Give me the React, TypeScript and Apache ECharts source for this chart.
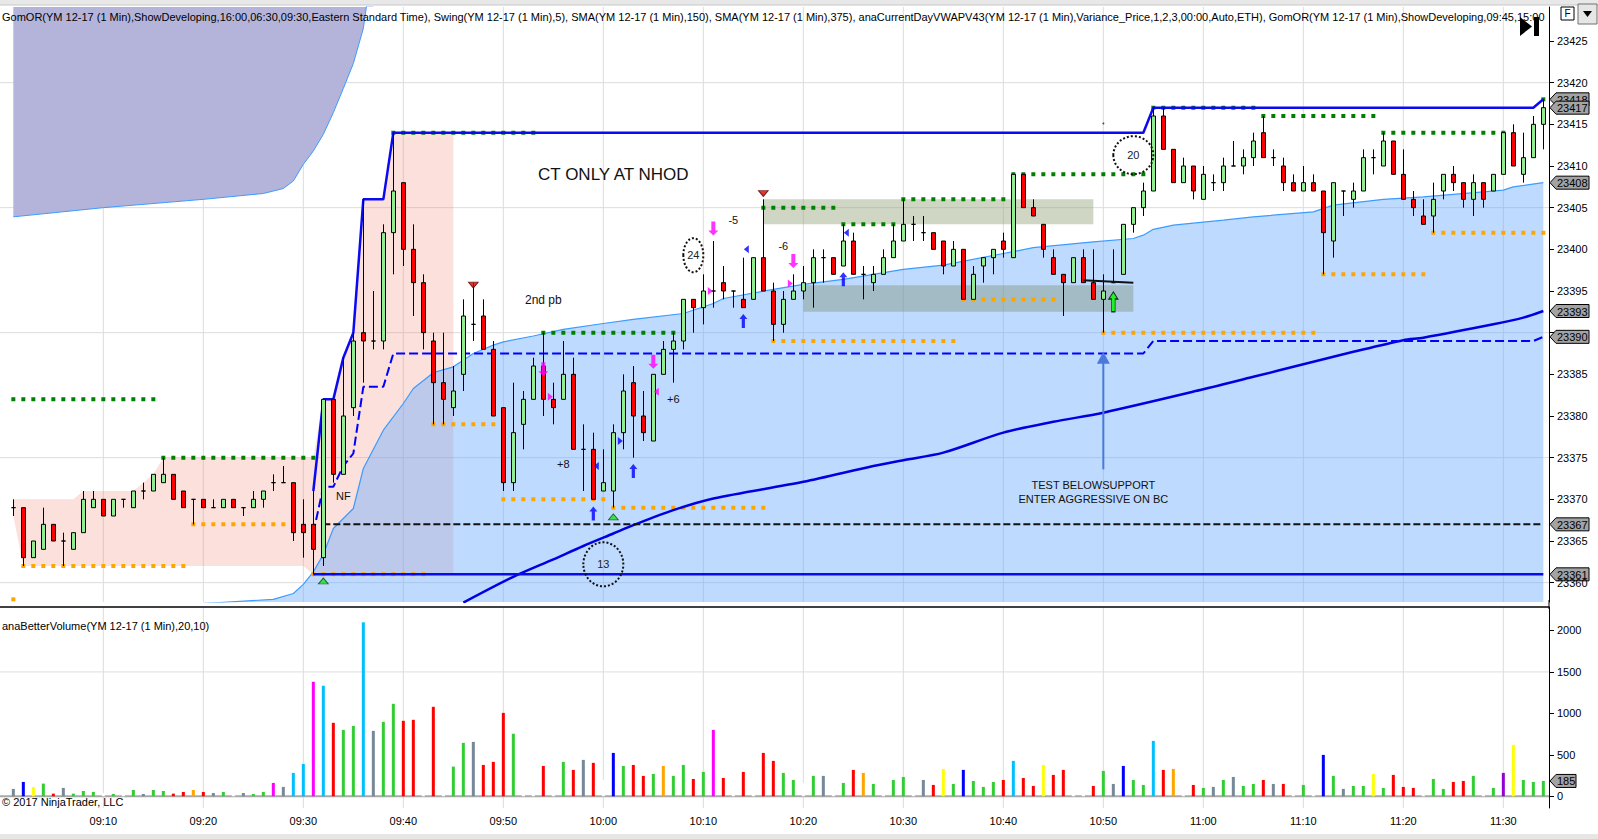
import React, { useEffect, useRef } from "react";
import * as echarts from "echarts";

// ---------- DATA ----------
// [time, open, high, low, close]
const candles: [string, number, number, number, number][] = [
  ["09:01", 23369, 23370, 23368, 23369], ["09:02", 23369, 23369, 23362, 23363], ["09:03", 23363, 23365, 23363, 23365],
  ["09:04", 23364, 23369, 23364, 23367], ["09:05", 23367, 23367, 23365, 23365], ["09:06", 23365, 23366, 23362, 23365],
  ["09:07", 23364, 23366, 23364, 23366], ["09:08", 23366, 23371, 23366, 23370], ["09:09", 23369, 23371, 23369, 23370],
  ["09:10", 23370, 23370, 23368, 23368], ["09:11", 23368, 23370, 23368, 23370], ["09:12", 23370, 23370, 23369, 23370],
  ["09:13", 23369, 23371, 23369, 23371], ["09:14", 23371, 23372, 23370, 23371], ["09:15", 23371, 23373, 23371, 23373],
  ["09:16", 23372, 23375, 23372, 23373], ["09:17", 23373, 23373, 23370, 23370], ["09:18", 23371, 23371, 23369, 23369],
  ["09:19", 23370, 23370, 23367, 23370], ["09:20", 23370, 23370, 23369, 23369], ["09:21", 23369, 23370, 23369, 23369],
  ["09:22", 23369, 23370, 23369, 23370], ["09:23", 23370, 23370, 23369, 23369], ["09:24", 23369, 23369, 23368, 23369],
  ["09:25", 23369, 23371, 23369, 23370], ["09:26", 23370, 23371, 23369, 23371], ["09:27", 23372, 23373, 23371, 23372],
  ["09:28", 23372, 23374, 23372, 23372], ["09:29", 23372, 23372, 23365, 23366], ["09:30", 23367, 23370, 23363, 23366],
  ["09:31", 23367, 23371, 23361, 23364], ["09:32", 23363, 23382, 23362, 23382], ["09:33", 23382, 23382, 23372, 23373],
  ["09:34", 23373, 23387, 23373, 23380], ["09:35", 23381, 23390, 23380, 23389], ["09:36", 23390, 23406, 23384, 23389],
  ["09:37", 23389, 23395, 23388, 23389], ["09:38", 23389, 23403, 23388, 23402], ["09:39", 23402, 23414, 23397, 23407],
  ["09:40", 23408, 23408, 23398, 23400], ["09:41", 23400, 23403, 23392, 23396], ["09:42", 23396, 23397, 23388, 23390],
  ["09:43", 23389, 23390, 23379, 23384], ["09:44", 23384, 23390, 23379, 23382], ["09:45", 23381, 23386, 23380, 23383],
  ["09:46", 23385, 23394, 23383, 23392], ["09:47", 23391, 23396, 23389, 23391], ["09:48", 23392, 23394, 23388, 23388],
  ["09:49", 23388, 23389, 23380, 23380], ["09:50", 23381, 23381, 23371, 23372], ["09:51", 23372, 23384, 23371, 23378],
  ["09:52", 23379, 23383, 23376, 23382], ["09:53", 23382, 23387, 23382, 23386], ["09:54", 23386, 23390, 23380, 23382],
  ["09:55", 23382, 23384, 23379, 23381], ["09:56", 23382, 23389, 23382, 23385], ["09:57", 23385, 23387, 23376, 23376],
  ["09:58", 23376, 23379, 23371, 23376], ["09:59", 23376, 23378, 23370, 23370], ["10:00", 23371, 23376, 23371, 23372],
  ["10:01", 23371, 23379, 23369, 23378], ["10:02", 23378, 23385, 23376, 23383], ["10:03", 23384, 23386, 23375, 23380],
  ["10:04", 23380, 23383, 23377, 23378], ["10:05", 23377, 23385, 23377, 23385], ["10:06", 23385, 23389, 23385, 23388],
  ["10:07", 23388, 23390, 23384, 23389], ["10:08", 23389, 23394, 23388, 23394], ["10:09", 23394, 23394, 23390, 23393],
  ["10:10", 23393, 23397, 23391, 23395], ["10:11", 23395, 23401, 23393, 23395], ["10:12", 23396, 23398, 23394, 23395],
  ["10:13", 23395, 23395, 23393, 23395], ["10:14", 23394, 23399, 23393, 23393], ["10:15", 23394, 23399, 23394, 23399],
  ["10:16", 23399, 23406, 23395, 23395], ["10:17", 23395, 23396, 23389, 23391], ["10:18", 23391, 23395, 23390, 23394],
  ["10:19", 23394, 23397, 23394, 23395], ["10:20", 23395, 23398, 23394, 23396], ["10:21", 23396, 23400, 23393, 23399],
  ["10:22", 23399, 23400, 23396, 23399], ["10:23", 23399, 23399, 23397, 23397], ["10:24", 23398, 23403, 23398, 23401],
  ["10:25", 23401, 23402, 23397, 23397], ["10:26", 23397, 23398, 23394, 23397], ["10:27", 23396, 23398, 23395, 23397],
  ["10:28", 23397, 23400, 23397, 23399], ["10:29", 23399, 23403, 23399, 23401], ["10:30", 23401, 23406, 23401, 23403],
  ["10:31", 23403, 23404, 23401, 23403], ["10:32", 23402, 23404, 23401, 23402], ["10:33", 23402, 23402, 23400, 23400],
  ["10:34", 23401, 23401, 23397, 23398], ["10:35", 23398, 23401, 23398, 23400], ["10:36", 23400, 23400, 23394, 23394],
  ["10:37", 23394, 23398, 23394, 23397], ["10:38", 23398, 23399, 23396, 23399], ["10:39", 23399, 23400, 23397, 23400],
  ["10:40", 23401, 23402, 23399, 23400], ["10:41", 23399, 23409, 23399, 23409], ["10:42", 23409, 23409, 23405, 23405],
  ["10:43", 23405, 23406, 23404, 23404], ["10:44", 23403, 23403, 23399, 23400], ["10:45", 23399, 23400, 23397, 23397],
  ["10:46", 23397, 23397, 23392, 23396], ["10:47", 23396, 23399, 23396, 23399], ["10:48", 23399, 23400, 23396, 23396],
  ["10:49", 23396, 23400, 23394, 23394], ["10:50", 23394, 23397, 23390, 23395], ["10:51", 23396, 23400, 23396, 23396],
  ["10:52", 23397, 23403, 23397, 23403], ["10:53", 23403, 23405, 23402, 23405], ["10:54", 23405, 23408, 23404, 23407],
  ["10:55", 23407, 23417, 23407, 23416], ["10:56", 23416, 23417, 23412, 23412], ["10:57", 23412, 23412, 23408, 23408],
  ["10:58", 23408, 23411, 23408, 23410], ["10:59", 23410, 23410, 23406, 23407], ["11:00", 23406, 23410, 23406, 23409],
  ["11:01", 23408, 23409, 23407, 23408], ["11:02", 23408, 23411, 23407, 23410], ["11:03", 23410, 23413, 23410, 23410],
  ["11:04", 23410, 23412, 23409, 23411], ["11:05", 23411, 23414, 23410, 23413], ["11:06", 23414, 23416, 23411, 23411],
  ["11:07", 23411, 23412, 23410, 23411], ["11:08", 23410, 23411, 23407, 23408], ["11:09", 23408, 23409, 23407, 23407],
  ["11:10", 23407, 23410, 23407, 23408], ["11:11", 23408, 23409, 23407, 23407], ["11:12", 23407, 23407, 23397, 23402],
  ["11:13", 23401, 23408, 23399, 23408], ["11:14", 23407, 23407, 23404, 23407], ["11:15", 23406, 23408, 23405, 23407],
  ["11:16", 23407, 23412, 23407, 23411], ["11:17", 23411, 23412, 23409, 23411], ["11:18", 23410, 23414, 23410, 23413],
  ["11:19", 23413, 23413, 23409, 23409], ["11:20", 23409, 23412, 23406, 23406], ["11:21", 23406, 23407, 23404, 23405],
  ["11:22", 23404, 23406, 23403, 23403], ["11:23", 23404, 23408, 23402, 23406], ["11:24", 23407, 23409, 23406, 23409],
  ["11:25", 23409, 23410, 23407, 23408], ["11:26", 23408, 23408, 23405, 23406], ["11:27", 23406, 23409, 23404, 23408],
  ["11:28", 23408, 23408, 23405, 23406], ["11:29", 23407, 23409, 23407, 23409], ["11:30", 23409, 23414, 23409, 23414],
  ["11:31", 23414, 23415, 23410, 23410], ["11:32", 23409, 23414, 23408, 23411], ["11:33", 23411, 23416, 23411, 23415],
  ["11:34", 23415, 23418, 23412, 23417],
];

// volume per bar and its indicator colour class
const volumes: number[] = [
  89, 173, 113, 153, 32, 101, 32, 64, 52, 40, 28, 30, 76, 28, 76, 64, 32, 52, 76, 52,
  40, 52, 30, 40, 28, 52, 161, 113, 282, 390, 1381, 1333, 886, 801, 849, 2098, 789, 898, 1115, 910,
  922, 600, 1079, 600, 358, 644, 656, 378, 415, 1006, 753, 300, 300, 366, 300, 415, 318, 439, 403, 197,
  523, 366, 378, 246, 270, 366, 246, 378, 209, 294, 801, 221, 200, 294, 200, 523, 427, 282, 197, 161,
  246, 246, 150, 161, 318, 282, 149, 150, 197, 233, 150, 197, 137, 330, 149, 318, 185, 113, 173, 197,
  427, 221, 125, 378, 258, 318, 150, 150, 125, 306, 149, 366, 197, 137, 668, 318, 330, 150, 137, 101,
  113, 197, 233, 125, 149, 197, 149, 149, 100, 137, 100, 499, 246, 89, 125, 125, 270, 101, 258, 113,
  101, 100, 209, 89, 173, 185, 246, 100, 101, 282, 620, 197, 173, 185,
];
const volumeKinds: string[] = [
  "gy", "b", "y", "g", "r", "gy", "g", "g", "g", "w", "g", "w", "g", "gy", "g", "g", "r", "r", "o", "r",
  "gy", "g", "w", "gy", "g", "g", "m", "gy", "c", "c", "m", "c", "r", "g", "g", "c", "gy", "g", "g", "r",
  "r", "w", "r", "w", "g", "g", "gy", "r", "r", "r", "g", "w", "w", "r", "w", "g", "r", "gy", "r", "w",
  "b", "g", "r", "r", "g", "o", "g", "g", "r", "g", "m", "r", "w", "r", "w", "r", "r", "g", "g", "w",
  "g", "gy", "w", "g", "r", "o", "g", "w", "g", "g", "w", "gy", "r", "y", "g", "b", "g", "g", "g", "r",
  "c", "r", "r", "y", "r", "r", "w", "w", "r", "g", "gy", "b", "g", "g", "c", "r", "o", "w", "r", "g",
  "gy", "g", "gy", "g", "g", "r", "gy", "r", "w", "g", "w", "b", "g", "gy", "g", "g", "y", "g", "r", "r",
  "r", "w", "g", "g", "r", "r", "g", "w", "g", "p", "y", "g", "g", "g",
];

// VWAP variance band (light blue line, shaded below)
const vwapBand: [string, number][] = [
  ["09:20", 23357.5], ["09:27", 23358], ["09:29", 23358.7], ["09:30", 23359.8], ["09:31", 23361.3], ["09:32", 23363.4],
  ["09:33", 23366.5], ["09:35", 23368.9], ["09:36", 23373.7], ["09:38", 23378.3], ["09:40", 23381.5], ["09:41", 23383.3],
  ["09:43", 23385.2], ["09:45", 23385.9], ["09:47", 23387.5], ["09:49", 23388.5], ["09:50", 23388.9], ["09:53", 23389.6],
  ["09:56", 23390.4], ["10:00", 23391.1], ["10:03", 23391.6], ["10:08", 23392.3], ["10:11", 23393.5], ["10:12", 23394.1],
  ["10:17", 23395.2], ["10:20", 23395.8], ["10:24", 23396.4], ["10:30", 23397.6], ["10:34", 23398.1], ["10:40", 23399.5],
  ["10:43", 23400.2], ["10:49", 23400.9], ["10:53", 23401.3], ["10:54", 23401.7], ["10:55", 23402.4], ["10:57", 23402.9],
  ["11:02", 23403.5], ["11:05", 23403.9], ["11:11", 23404.5], ["11:13", 23405.3], ["11:18", 23406], ["11:22", 23406.3],
  ["11:28", 23406.9], ["11:30", 23407.1], ["11:31", 23407.5], ["11:34", 23408],
];
// upper band of the earlier session (shaded above)
const upperBand: [string, number][] = [
  ["09:01", 23403.9], ["09:10", 23405], ["09:20", 23406], ["09:26", 23406.7], ["09:28", 23407.3], ["09:29", 23408.2],
  ["09:30", 23410.2], ["09:31", 23411.8], ["09:32", 23413.8], ["09:33", 23416.4], ["09:34", 23419.3], ["09:35", 23422.3],
  ["09:36", 23426.5], ["09:37", 23435],
];
// SMA(375)
const sma375: [string, number][] = [
  ["09:46", 23357.6], ["09:51", 23360.7], ["09:55", 23362.8], ["09:58", 23364.4], ["10:01", 23365.9], ["10:03", 23366.9],
  ["10:07", 23368.7], ["10:11", 23370.1], ["10:20", 23372.1], ["10:27", 23374], ["10:30", 23374.7], ["10:34", 23375.6],
  ["10:40", 23378], ["10:45", 23379.3], ["10:50", 23380.4], ["11:00", 23383.2], ["11:05", 23384.7], ["11:10", 23386.2],
  ["11:15", 23387.7], ["11:20", 23389.1], ["11:22", 23389.4], ["11:29", 23391], ["11:32", 23391.8], ["11:34", 23392.6],
];

// swing high / low dotted levels: [from, to, price]
const swingHighs: [string, string, number][] = [
  ["09:01", "09:15", 23382], ["09:16", "09:31", 23375], ["09:39", "09:53", 23414], ["09:54", "10:07", 23390],
  ["10:16", "10:23", 23405], ["10:24", "10:29", 23403], ["10:30", "10:40", 23406], ["10:41", "10:54", 23409],
  ["10:55", "11:05", 23417], ["11:06", "11:17", 23416], ["11:18", "11:30", 23414], ["11:34", "11:34", 23418],
];
const swingLows: [string, string, number][] = [
  ["09:01", "09:01", 23358], ["09:02", "09:18", 23362], ["09:19", "09:28", 23367], ["09:31", "09:42", 23361],
  ["09:43", "09:49", 23379], ["09:50", "10:00", 23370], ["10:01", "10:16", 23369], ["10:17", "10:35", 23389],
  ["10:36", "10:45", 23394], ["10:50", "11:11", 23390], ["11:12", "11:22", 23397], ["11:23", "11:34", 23402],
];

const rthStart = "09:31";
const ethRangeEnd = "09:45";
const keyLevel: [string, number] = ["09:32", 23367];

// zones: [from, to, low, high]
const zoneUpper: [string, string, number, number] = ["10:16", "10:49", 23403, 23406];
const zoneLower: [string, string, number, number] = ["10:20", "10:53", 23392.5, 23395.7];

// markers
const swingHighTri: [string, number][] = [["09:47", 23395.7], ["10:16", 23406.7]];
const swingLowTri: [string, number][] = [["09:32", 23360.2], ["10:01", 23367.9]];
const blueUp: [string, number][] = [["09:59", 23368.3], ["10:03", 23373.4], ["10:14", 23391.4], ["10:24", 23396.4]];
const pinkDown: [string, number][] = [["09:54", 23385.6], ["10:05", 23386.5], ["10:11", 23402.5], ["10:19", 23398.6]];
const greenUp: [string, number][] = [["10:51", 23393.7]];
const pinkRight: [string, number][] = [["09:55", 23382.3], ["10:11", 23395], ["10:19", 23395.9]];
const pinkLeft: [string, number][] = [["10:05", 23382.9]];
const blueRight: [string, number][] = [["10:02", 23377]];
const blueLeft: [string, number][] = [["09:59", 23374], ["10:14", 23400], ["10:24", 23402]];
const tinyDot: [string, number][] = [["10:50", 23415.1]];

// text notes: [time, price, text]
const notes: [string, number, string][] = [
  ["10:01", 23409, "CT ONLY AT NHOD"],
  ["09:54", 23393.9, "2nd pb"],
  ["09:34", 23370.4, "NF"],
  ["09:56", 23374.2, "+8"],
  ["10:07", 23382.1, "+6"],
  ["10:13", 23403.5, "-5"],
  ["10:18", 23400.4, "-6"],
  ["10:49", 23371.7, "TEST BELOWSUPPORT"],
  ["10:49", 23370.1, "ENTER AGGRESSIVE ON BC"],
];
const circles: [string, number, string][] = [["10:09", 23399.3, "24"], ["10:00", 23362.2, "13"], ["10:53", 23411.3, "20"]];
const trendLine: [string, number][] = [["10:48", 23396.3], ["10:53", 23396]];
const supportArrow: [string, number, number] = ["10:50", 23373.6, 23387.7];

const priceTicks = [23360, 23365, 23370, 23375, 23380, 23385, 23390, 23395, 23400, 23405, 23410, 23415, 23420, 23425];
// the 23390 label is covered by the 23390 price marker in the reference
const priceTickLabels = [23360, 23365, 23370, 23375, 23380, 23385, 23395, 23400, 23405, 23410, 23415, 23420, 23425];
const priceGridLines = [23360, 23375, 23390, 23405, 23420];
const volumeTicks = [0, 500, 1000, 1500, 2000];
const volumeGridLines = [1500];
const timeTicks = ["09:10", "09:20", "09:30", "09:40", "09:50", "10:00", "10:10", "10:20", "10:30", "10:40", "10:50", "11:00", "11:10", "11:20", "11:30"];

const legendText =
  "GomOR(YM 12-17 (1 Min),ShowDeveloping,16:00,06:30,09:30,Eastern Standard Time), Swing(YM 12-17 (1 Min),5), SMA(YM 12-17 (1 Min),150), SMA(YM 12-17 (1 Min),375), anaCurrentDayVWAPV43(YM 12-17 (1 Min),Variance_Price,1,2,3,00:00,Auto,ETH), GomOR(YM 12-17 (1 Min),ShowDeveloping,09:45,15:00";
const volumeTitle = "anaBetterVolume(YM 12-17 (1 Min),20,10)";
const copyright = "© 2017 NinjaTrader, LLC";

// ---------- STYLE ----------
const FONT = '"Liberation Sans", Arial, sans-serif';
const VOLUME_COLORS: Record<string, string> = {
  g: "#32cd32", r: "#ff0000", gy: "#778899", b: "#0000ff", y: "#ffff00",
  c: "#00bfff", m: "#ff00ff", o: "#ffa500", p: "#9400d3", w: "#ffffff",
};
const CIRCLE_RADII: Record<string, [number, number]> = { "24": [10, 17], "13": [20, 22], "20": [20, 19] };
const NOTE_SIZE: Record<string, number> = { "CT ONLY AT NHOD": 17, "2nd pb": 12 };

const X_MIN = -1.333;
const X_MAX = X_MIN + 154.9;
const P_MIN = 23357.68;
const P_MAX = 23429.08;
const V_MIN = -141.3;
const V_MAX = 2282.6;
const AXIS_X = 1549;

function idx(t: string): number {
  const [h, m] = t.split(":").map(Number);
  return h * 60 + m - (9 * 60 + 1);
}
function timeLabel(i: number): string {
  const total = 9 * 60 + 1 + Math.round(i);
  const h = Math.floor(total / 60);
  const m = total % 60;
  return `${String(h).padStart(2, "0")}:${String(m).padStart(2, "0")}`;
}
const pts = (arr: [string, number][]) => arr.map(([t, v]) => [idx(t), v]);

function derived() {
  let hi = -Infinity, lo = Infinity;
  const ethUpper: number[][] = [], ethLower: number[][] = [];
  let rh = -Infinity, rl = Infinity;
  const rthHigh: number[][] = [], rthLow: number[][] = [], rthMid: number[][] = [];
  for (const [t, , h, l] of candles) {
    const i = idx(t);
    if (i <= idx(ethRangeEnd)) {
      hi = Math.max(hi, h); lo = Math.min(lo, l);
      ethUpper.push([i, hi]); ethLower.push([i, lo]);
    }
    if (i >= idx(rthStart)) {
      rh = Math.max(rh, h); rl = Math.min(rl, l);
      rthHigh.push([i, rh]); rthLow.push([i, rl]); rthMid.push([i, (rh + rl) / 2]);
    }
  }
  return { ethUpper, ethLower, rthHigh, rthLow, rthMid };
}

function customLayer(z: number, draw: (api: any) => any[], xi = 0, yi = 0, anchorY = P_MIN + 1) {
  return {
    type: "custom",
    xAxisIndex: xi,
    yAxisIndex: yi,
    z,
    silent: true,
    data: [[0, anchorY]],
    renderItem: (_p: any, api: any) => ({ type: "group", children: draw(api) }),
  };
}

function scatterMarks(data: [string, number][], z: number, extra: any) {
  return {
    type: "scatter",
    xAxisIndex: 0,
    yAxisIndex: 0,
    z,
    silent: true,
    data: pts(data),
    ...extra,
  };
}

function buildOption() {
  const d = derived();
  const lastI = idx(candles[candles.length - 1][0]);

  const gridLayer = customLayer(0, (api) => {
    const out: any[] = [];
    for (const v of priceGridLines) {
      const a = api.coord([X_MIN, v]), b = api.coord([X_MAX, v]);
      out.push({ type: "line", shape: { x1: a[0], y1: a[1], x2: b[0], y2: b[1] }, style: { stroke: "#dcdcdc", lineWidth: 1 } });
    }
    for (const t of timeTicks) {
      const a = api.coord([idx(t), P_MIN]), b = api.coord([idx(t), P_MAX]);
      out.push({ type: "line", shape: { x1: a[0], y1: a[1], x2: b[0], y2: b[1] }, style: { stroke: "#dcdcdc", lineWidth: 1 } });
    }
    return out;
  });

  const volGridLayer = customLayer(0, (api) => {
    const out: any[] = [];
    for (const v of volumeGridLines) {
      const a = api.coord([X_MIN, v]), b = api.coord([X_MAX, v]);
      out.push({ type: "line", shape: { x1: a[0], y1: a[1], x2: b[0], y2: b[1] }, style: { stroke: "#dcdcdc", lineWidth: 1 } });
    }
    for (const t of timeTicks) {
      const a = api.coord([idx(t), V_MIN]), b = api.coord([idx(t), V_MAX]);
      out.push({ type: "line", shape: { x1: a[0], y1: a[1], x2: b[0], y2: b[1] }, style: { stroke: "#dcdcdc", lineWidth: 1 } });
    }
    const a = api.coord([X_MIN, 0]), b = api.coord([X_MAX, 0]);
    out.push({ type: "line", shape: { x1: a[0], y1: a[1], x2: b[0], y2: b[1] }, style: { stroke: "#a8a8a8", lineWidth: 2 } });
    return out;
  }, 1, 1, 100);

  const pinkLayer = customLayer(1, (api) => {
    const poly = [...d.ethUpper.map((p) => api.coord(p)), ...d.ethLower.slice().reverse().map((p) => api.coord(p))];
    return [{ type: "polygon", shape: { points: poly }, style: { fill: "rgba(245,130,115,0.25)" } }];
  });

  const zonesLayer = customLayer(2, (api) => {
    const rect = (z: [string, string, number, number], fill: string) => {
      const a = api.coord([idx(z[0]), z[3]]), b = api.coord([idx(z[1]), z[2]]);
      return { type: "rect", shape: { x: a[0], y: a[1], width: b[0] - a[0], height: b[1] - a[1] }, style: { fill } };
    };
    return [rect(zoneUpper, "rgba(150,165,125,0.45)"), rect(zoneLower, "rgba(120,140,110,0.4)")];
  });

  const dotted = (segs: [string, string, number][], color: string) => (api: any) =>
    segs.map(([s, e, v]) => {
      const a = api.coord([idx(s), v]), b = api.coord([idx(e), v]);
      return {
        type: "line",
        shape: { x1: a[0] - 2, y1: a[1], x2: b[0] + 2, y2: b[1] },
        style: { stroke: color, lineWidth: 4, lineDash: [4, 6], lineCap: "butt" },
      };
    });
  const swingLayer = customLayer(3, (api) => [...dotted(swingHighs, "#008000")(api), ...dotted(swingLows, "#ffa500")(api)]);

  const drawingsLayer = customLayer(5, (api) => {
    const out: any[] = [];
    const t1 = api.coord([idx(trendLine[0][0]), trendLine[0][1]]), t2 = api.coord([idx(trendLine[1][0]), trendLine[1][1]]);
    out.push({ type: "line", shape: { x1: t1[0], y1: t1[1], x2: t2[0], y2: t2[1] }, style: { stroke: "#111", lineWidth: 2 } });
    const s1 = api.coord([idx(supportArrow[0]), supportArrow[1]]), s2 = api.coord([idx(supportArrow[0]), supportArrow[2]]);
    out.push({ type: "line", shape: { x1: s1[0], y1: s1[1], x2: s2[0], y2: s2[1] + 10 }, style: { stroke: "#4a78dc", lineWidth: 2 } });
    out.push({
      type: "polygon",
      shape: { points: [[s2[0], s2[1]], [s2[0] + 6.5, s2[1] + 12], [s2[0] - 6.5, s2[1] + 12]] },
      style: { fill: "#4a78dc" },
    });
    for (const [t, v, txt] of circles) {
      const c = api.coord([idx(t), v]);
      const [rx, ry] = CIRCLE_RADII[txt];
      out.push({ type: "ellipse", shape: { cx: c[0], cy: c[1], rx, ry }, style: { fill: "none", stroke: "#111", lineWidth: 2, lineDash: [2, 2] } });
      out.push({ type: "text", x: c[0], y: c[1], style: { text: txt, fill: "#222", fontSize: 11, fontFamily: FONT, align: "center", verticalAlign: "middle" } });
    }
    for (const [t, v, txt] of notes) {
      const c = api.coord([idx(t), v]);
      out.push({
        type: "text", x: c[0], y: c[1],
        style: { text: txt, fill: "#111", fontSize: NOTE_SIZE[txt] || 11, fontFamily: FONT, align: "center", verticalAlign: "middle" },
      });
    }
    return out;
  });

  const upPath = "path://M5 0 L10 5 L7 5 L7 14 L3 14 L3 5 L0 5 Z";
  const downPath = "path://M3 0 L7 0 L7 9 L10 9 L5 14 L0 9 L3 9 Z";
  const rightPath = "path://M0 0 L6 4 L0 8 Z";
  const leftPath = "path://M6 0 L0 4 L6 8 Z";

  const yAxisCommon = {
    type: "value",
    position: "right",
    axisLine: { show: true, onZero: false, lineStyle: { color: "#000", width: 1 } },
    splitLine: { show: false },
  };

  return {
    animation: false,
    backgroundColor: "#ffffff",
    textStyle: { fontFamily: FONT },
    tooltip: { show: false },
    grid: [
      { left: 0, top: 7, width: AXIS_X, height: 595 },
      { left: 0, top: 607, width: AXIS_X, height: 201 },
    ],
    xAxis: [
      { type: "value", gridIndex: 0, min: X_MIN, max: X_MAX, show: false, axisLine: { onZero: false } },
      {
        type: "value", gridIndex: 1, min: X_MIN, max: X_MAX,
        axisLine: { show: false, onZero: false }, axisTick: { show: false }, splitLine: { show: false },
        axisLabel: {
          customValues: timeTicks.map(idx), formatter: (v: number) => timeLabel(v),
          color: "#000", fontSize: 11, fontFamily: FONT, margin: 7,
        },
      },
    ],
    yAxis: [
      {
        ...yAxisCommon, gridIndex: 0, min: P_MIN, max: P_MAX,
        axisTick: { show: true, length: 5, lineStyle: { color: "#000" }, customValues: priceTicks },
        axisLabel: { customValues: priceTickLabels, color: "#000", fontSize: 11, fontFamily: FONT, margin: 8, formatter: (v: number) => String(v) },
      },
      {
        ...yAxisCommon, gridIndex: 1, min: V_MIN, max: V_MAX,
        axisTick: { show: true, length: 5, lineStyle: { color: "#000" }, customValues: volumeTicks },
        axisLabel: { customValues: volumeTicks, color: "#000", fontSize: 11, fontFamily: FONT, margin: 8, formatter: (v: number) => String(v) },
      },
    ],
    series: [
      gridLayer,
      volGridLayer,
      {
        type: "line", xAxisIndex: 0, yAxisIndex: 0, z: 1, silent: true, showSymbol: false,
        data: pts(upperBand),
        lineStyle: { color: "#3d9bff", width: 1 },
        areaStyle: { color: "#b4b4da", opacity: 1, origin: "end" },
      },
      pinkLayer,
      {
        type: "line", xAxisIndex: 0, yAxisIndex: 0, z: 1, silent: true, showSymbol: false,
        data: pts(vwapBand),
        lineStyle: { color: "#3d9bff", width: 1.2 },
        areaStyle: { color: "rgba(100,170,255,0.42)", opacity: 1, origin: "start" },
      },
      zonesLayer,
      {
        type: "line", xAxisIndex: 0, yAxisIndex: 0, z: 3, silent: true, showSymbol: false, smooth: 0.3,
        data: pts(sma375), lineStyle: { color: "#0000e0", width: 2.5 },
      },
      {
        type: "line", xAxisIndex: 0, yAxisIndex: 0, z: 3, silent: true, showSymbol: false,
        data: [[idx(keyLevel[0]), keyLevel[1]], [lastI, keyLevel[1]]],
        lineStyle: { color: "#111", width: 2, type: [7, 3] },
      },
      {
        type: "line", xAxisIndex: 0, yAxisIndex: 0, z: 3, silent: true, showSymbol: false,
        data: d.rthMid, lineStyle: { color: "#0000ff", width: 2, type: [9, 4] },
      },
      swingLayer,
      {
        type: "line", xAxisIndex: 0, yAxisIndex: 0, z: 3, silent: true, showSymbol: false,
        data: d.rthHigh, lineStyle: { color: "#0a0af0", width: 2.5 },
      },
      {
        type: "line", xAxisIndex: 0, yAxisIndex: 0, z: 3, silent: true, showSymbol: false,
        data: d.rthLow, lineStyle: { color: "#0a0af0", width: 2.5 },
      },
      {
        type: "candlestick", xAxisIndex: 0, yAxisIndex: 0, z: 4, silent: true,
        barWidth: 4,
        dimensions: ["t", "open", "close", "lowest", "highest"],
        encode: { x: 0, y: [1, 2, 3, 4] },
        data: candles.map(([t, o, h, l, c]) => [idx(t), o, c, l, h]),
        itemStyle: {
          color: "#90ee90", color0: "#ff0000",
          borderColor: "#000", borderColor0: "#000", borderColorDoji: "#000", borderWidth: 1,
        },
      },
      {
        type: "bar", xAxisIndex: 1, yAxisIndex: 1, z: 3, silent: true, barWidth: 3,
        data: candles.map(([t], i) => ({ value: [idx(t), volumes[i]], itemStyle: { color: VOLUME_COLORS[volumeKinds[i]] } })),
      },
      scatterMarks(swingHighTri, 5, { symbol: "triangle", symbolRotate: 180, symbolSize: [10, 6], itemStyle: { color: "#e00000", borderColor: "#400", borderWidth: 0.8 } }),
      scatterMarks(swingLowTri, 5, { symbol: "triangle", symbolSize: [10, 6], itemStyle: { color: "#22dd22", borderColor: "#040", borderWidth: 0.8 } }),
      scatterMarks(blueUp, 5, { symbol: upPath, symbolSize: [8, 14], itemStyle: { color: "#0000ff" } }),
      scatterMarks(pinkDown, 5, { symbol: downPath, symbolSize: [10, 14], itemStyle: { color: "#ff00ff" } }),
      scatterMarks(greenUp, 5, { symbol: upPath, symbolSize: [9, 20], itemStyle: { color: "#00ff00", borderColor: "#000", borderWidth: 1 } }),
      scatterMarks(pinkRight, 5, { symbol: rightPath, symbolSize: [5, 8], symbolOffset: [-3, 0], itemStyle: { color: "#ff00ff" } }),
      scatterMarks(pinkLeft, 5, { symbol: leftPath, symbolSize: [5, 8], symbolOffset: [3, 0], itemStyle: { color: "#ff00ff" } }),
      scatterMarks(blueRight, 5, { symbol: rightPath, symbolSize: [5, 8], symbolOffset: [-3, 0], itemStyle: { color: "#0000ff" } }),
      scatterMarks(blueLeft, 5, { symbol: leftPath, symbolSize: [5, 8], symbolOffset: [3, 0], itemStyle: { color: "#0000ff" } }),
      scatterMarks(tinyDot, 5, { symbol: "circle", symbolSize: 2, itemStyle: { color: "#333" } }),
      drawingsLayer,
    ],
  };
}

function buildGraphics(py: (v: number) => number, vy: (v: number) => number) {
  const d = derived();
  const lastHigh = d.rthHigh[d.rthHigh.length - 1][1];
  const lastLow = d.rthLow[d.rthLow.length - 1][1];
  const lastMid = d.rthMid[d.rthMid.length - 1][1];
  const lastClose = candles[candles.length - 1][4];
  const lastBand = vwapBand[vwapBand.length - 1][1];
  const lastSma = sma375[sma375.length - 1][1];
  const lastVol = volumes[volumes.length - 1];

  const flag = (y: number, text: string, w: number) => ({
    type: "group",
    z: 100,
    children: [
      {
        type: "polygon",
        shape: { points: [[AXIS_X + 1, y], [AXIS_X + 7, y - 6.5], [AXIS_X + 7 + w, y - 6.5], [AXIS_X + 7 + w, y + 6.5], [AXIS_X + 7, y + 6.5]] },
        style: { fill: "#a3a3a3", stroke: "#000", lineWidth: 1 },
      },
      { type: "text", x: AXIS_X + 8, y: y + 0.5, style: { text, fill: "#000", fontSize: 11, fontFamily: FONT, verticalAlign: "middle", align: "left" } },
    ],
  });

  const flags = [
    flag(py(lastHigh), String(Math.round(lastHigh)), 33),
    flag(py(lastClose), String(Math.round(lastClose)), 33),
    flag(py(lastBand), String(Math.round(lastBand)), 33),
    flag(py(lastSma), String(Math.round(lastSma)), 33),
    flag(py(lastMid), String(Math.round(lastMid)), 33),
    flag(py(keyLevel[1]), String(keyLevel[1]), 33),
    flag(py(lastLow), String(Math.round(lastLow)), 33),
    flag(vy(lastVol), String(lastVol), 20),
  ];

  return [
    { type: "rect", z: 90, shape: { x: 0, y: 0, width: 1598, height: 5 }, style: { fill: "#e8e8e8" } },
    { type: "line", z: 90, shape: { x1: 0, y1: 5, x2: 1598, y2: 5 }, style: { stroke: "#c8c8c8", lineWidth: 1 } },
    { type: "text", z: 90, x: 2, y: 17, style: { text: legendText, fill: "#000", fontSize: 11, fontFamily: FONT, verticalAlign: "middle" } },
    { type: "text", z: 90, x: 2, y: 626, style: { text: volumeTitle, fill: "#000", fontSize: 11, fontFamily: FONT, verticalAlign: "middle" } },
    { type: "text", z: 90, x: 2, y: 802, style: { text: copyright, fill: "#000", fontSize: 11, fontFamily: FONT, verticalAlign: "middle" } },
    { type: "line", z: 90, shape: { x1: 0, y1: 607, x2: AXIS_X, y2: 607 }, style: { stroke: "#000", lineWidth: 1.5 } },
    { type: "line", z: 90, shape: { x1: AXIS_X, y1: 600, x2: AXIS_X, y2: 609 }, style: { stroke: "#000", lineWidth: 1 } },
    { type: "polygon", z: 95, shape: { points: [[1520, 17], [1520, 36], [1532, 26.5]] }, style: { fill: "#000" } },
    { type: "rect", z: 95, shape: { x: 1534, y: 17, width: 5, height: 19 }, style: { fill: "#000" } },
    { type: "rect", z: 95, shape: { x: 1561, y: 7, width: 13, height: 13 }, style: { fill: "#fff", stroke: "#000", lineWidth: 1 } },
    { type: "text", z: 96, x: 1567.5, y: 13.5, style: { text: "F", fill: "#000", fontSize: 10, fontFamily: FONT, align: "center", verticalAlign: "middle" } },
    { type: "rect", z: 95, shape: { x: 1578, y: 4, width: 19, height: 20 }, style: { fill: "#e6e6e6", stroke: "#707070", lineWidth: 1 } },
    { type: "polygon", z: 96, shape: { points: [[1583, 11], [1592, 11], [1587.5, 17]] }, style: { fill: "#000" } },
    { type: "rect", z: 90, shape: { x: 0, y: 834, width: 1598, height: 5 }, style: { fill: "#e6e6e6" } },
    ...flags,
  ];
}

export default function App() {
  const ref = useRef<HTMLDivElement>(null);
  useEffect(() => {
    const el = ref.current;
    if (!el) return;
    const chart = echarts.init(el, null, { renderer: "svg" });
    chart.setOption(buildOption() as any);
    const py = (v: number) => chart.convertToPixel({ yAxisIndex: 0 } as any, v) as unknown as number;
    const vy = (v: number) => chart.convertToPixel({ yAxisIndex: 1 } as any, v) as unknown as number;
    chart.setOption({ graphic: buildGraphics(py, vy) } as any);
    return () => chart.dispose();
  }, []);
  return (
    <div style={{ position: "fixed", left: 0, top: 0, width: 1598, height: 839, background: "#ffffff", overflow: "hidden" }}>
      <div ref={ref} style={{ width: 1598, height: 839 }} />
    </div>
  );
}
